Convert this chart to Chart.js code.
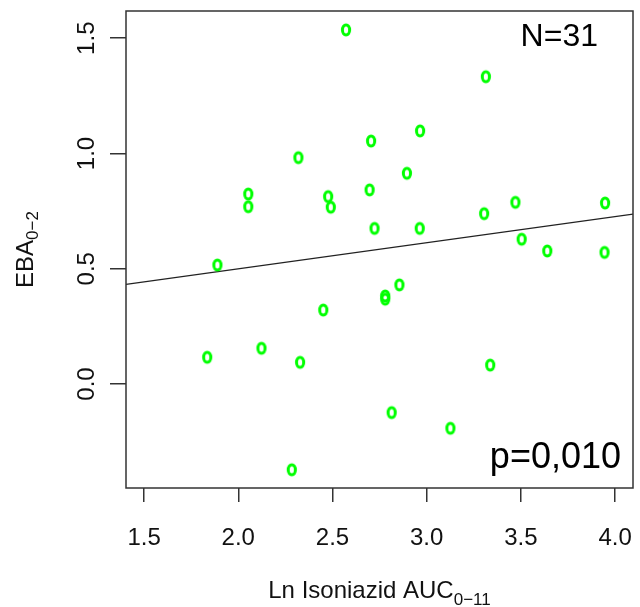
<!DOCTYPE html>
<html>
<head>
<meta charset="utf-8">
<script src="https://cdn.jsdelivr.net/npm/chart.js@4"></script>
<style>
  html, body { margin: 0; padding: 0; background: #fff; }
  #wrap { width: 640px; height: 607px; }
</style>
</head>
<body>
<div id="wrap"><canvas id="chart" width="640" height="607"></canvas></div>
<script>
// --- Data ---
const xVals = [2.572, 3.314, 2.965, 2.705, 2.895, 2.697, 2.477, 2.491, 3.471, 3.947, 3.305,
               2.723, 2.963, 3.504, 3.640, 3.944, 2.855, 2.780, 2.780, 2.319, 2.053, 2.053,
               1.889, 1.835, 2.123, 2.328, 2.284, 2.451, 3.337, 2.814, 3.126];
const yVals = [1.536, 1.333, 1.098, 1.054, 0.914, 0.842, 0.813, 0.767, 0.788, 0.785, 0.739,
               0.675, 0.675, 0.628, 0.577, 0.571, 0.430, 0.382, 0.368, 0.982, 0.824, 0.769,
               0.516, 0.116, 0.155, 0.094, -0.372, 0.321, 0.082, -0.124, -0.192];
const xTicks = [1.5, 2.0, 2.5, 3.0, 3.5, 4.0];
const yTicks = [0.0, 0.5, 1.0, 1.5];
const xRange = [1.404, 4.095];
const yRange = [-0.451, 1.618];
const fitIntercept = 0.2734;
const fitSlope = 0.1133;
const nLabel = 'N=31';
const pLabel = 'p=0,010';
const xTitle = ['Ln Isoniazid AUC', '0\u221211'];
const yTitle = ['EBA', '0\u22122'];

const FONT = '"Liberation Sans", Arial, sans-serif';

// --- R-style "o" marker ---
function makeMarker() {
    const c = document.createElement('canvas');
    c.width = 14; c.height = 16;
    const g = c.getContext('2d');
    g.strokeStyle = '#00ff00';
    g.lineWidth = 3;
    g.beginPath();
    g.ellipse(7, 8, 3.6, 5.1, 0, 0, Math.PI * 2);
    g.stroke();
    return c;
}

// title with subscript, centred on (0,0) in the current transform
function drawSubText(ctx, main, sub, size, subSize, subDrop) {
    ctx.font = size + 'px ' + FONT;
    const w1 = ctx.measureText(main).width;
    ctx.font = subSize + 'px ' + FONT;
    const w2 = ctx.measureText(sub).width;
    const start = -(w1 + w2) / 2;
    ctx.textAlign = 'left';
    ctx.textBaseline = 'alphabetic';
    ctx.font = size + 'px ' + FONT;
    ctx.fillText(main, start, 0);
    ctx.font = subSize + 'px ' + FONT;
    ctx.fillText(sub, start + w1, subDrop);
}

const rDecor = {
    id: 'rDecor',
    afterDraw(chart) {
        const { ctx, chartArea: a, scales } = chart;
        ctx.save();
        // plot box
        ctx.strokeStyle = '#333';
        ctx.lineWidth = 1.5;
        ctx.strokeRect(a.left, a.top, a.right - a.left, a.bottom - a.top);

        ctx.fillStyle = '#111';
        // x tick labels
        ctx.font = '24px ' + FONT;
        ctx.textAlign = 'center';
        ctx.textBaseline = 'alphabetic';
        xTicks.forEach(v => {
            ctx.fillText(v.toFixed(1), scales.x.getPixelForValue(v), a.bottom + 57);
        });
        // y tick labels (rotated, like R)
        yTicks.forEach(v => {
            ctx.save();
            ctx.translate(a.left - 32, scales.y.getPixelForValue(v));
            ctx.rotate(-Math.PI / 2);
            ctx.fillText(v.toFixed(1), 0, 0);
            ctx.restore();
        });

        // axis titles
        ctx.save();
        ctx.translate((a.left + a.right) / 2, 598);
        drawSubText(ctx, xTitle[0], xTitle[1], 24, 17, 7);
        ctx.restore();

        ctx.save();
        ctx.translate(33, (a.top + a.bottom) / 2);
        ctx.rotate(-Math.PI / 2);
        drawSubText(ctx, yTitle[0], yTitle[1], 24, 17, 5);
        ctx.restore();

        // annotations
        ctx.fillStyle = '#000';
        ctx.textAlign = 'right';
        ctx.font = '32px ' + FONT;
        ctx.fillText(nLabel, a.right - 35, a.top + 35);
        ctx.font = '36px ' + FONT;
        ctx.fillText(pLabel, a.right - 12, a.bottom - 20);
        ctx.restore();
    }
};

const points = xVals.map((x, i) => ({ x: x, y: yVals[i] }));
const fitLine = xRange.map(x => ({ x: x, y: fitIntercept + fitSlope * x }));

new Chart(document.getElementById('chart'), {
    type: 'scatter',
    data: {
        datasets: [{
            data: points,
            pointStyle: makeMarker(),
            pointRadius: 6,
            pointHoverRadius: 6
        }, {
            type: 'line',
            data: fitLine,
            borderColor: '#222',
            borderWidth: 1.2,
            pointRadius: 0,
            fill: false
        }]
    },
    options: {
        responsive: false,
        animation: false,
        events: [],
        layout: { padding: { top: 11, right: 3, left: 0, bottom: 0 } },
        plugins: { legend: { display: false }, tooltip: { enabled: false } },
        scales: {
            x: {
                type: 'linear',
                min: xRange[0], max: xRange[1],
                afterBuildTicks: s => { s.ticks = xTicks.map(v => ({ value: v })); },
                afterFit: s => { s.height = 119; },
                ticks: { display: false },
                grid: { drawOnChartArea: false, drawTicks: true, tickLength: 14, color: '#333', lineWidth: 1.5 },
                border: { display: false }
            },
            y: {
                type: 'linear',
                min: yRange[0], max: yRange[1],
                afterBuildTicks: s => { s.ticks = yTicks.map(v => ({ value: v })); },
                afterFit: s => { s.width = 126; },
                ticks: { display: false },
                grid: { drawOnChartArea: false, drawTicks: true, tickLength: 16, color: '#333', lineWidth: 1.5 },
                border: { display: false }
            }
        }
    },
    plugins: [rDecor]
});
</script>
</body>
</html>
